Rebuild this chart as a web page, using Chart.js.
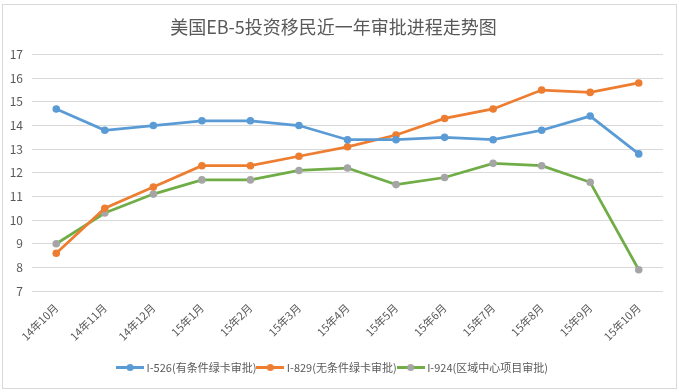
<!DOCTYPE html>
<html>
<head>
<meta charset="utf-8">
<script src="https://cdn.jsdelivr.net/npm/chart.js@4/dist/chart.umd.min.js"></script>
<style>
  html, body { margin: 0; padding: 0; background: #fff; }
  .wrap { width: 679px; height: 392px; position: relative; }
</style>
</head>
<body>
<div class="wrap"><canvas id="myChart"></canvas></div>
<script>
// Months
const months = ["14年10月", "14年11月", "14年12月", "15年1月", "15年2月", "15年3月", "15年4月",
  "15年5月", "15年6月", "15年7月", "15年8月", "15年9月", "15年10月"];

// Processing time (months) per form
const i526 = [14.7, 13.8, 14.0, 14.2, 14.2, 14.0, 13.4, 13.4, 13.5, 13.4, 13.8, 14.4, 12.8];
const i829 = [8.6, 10.5, 11.4, 12.3, 12.3, 12.7, 13.1, 13.6, 14.3, 14.7, 15.5, 15.4, 15.8];
const i924 = [9.0, 10.3, 11.1, 11.7, 11.7, 12.1, 12.2, 11.5, 11.8, 12.4, 12.3, 11.6, 7.9];

const seriesNames = ["I-526(有条件绿卡审批)", "I-829(无条件绿卡审批)", "I-924(区域中心项目审批)"];

const font = '"Noto Sans CJK SC", "Noto Sans", sans-serif';
const textColor = "#595959";

// legend marker: short line with a dot in the middle
const legendIcon = (lineColor, dotColor) => {
  const c = document.createElement("canvas");
  c.width = 28;
  c.height = 9;
  const g = c.getContext("2d");
  g.strokeStyle = lineColor;
  g.lineWidth = 3;
  g.beginPath();
  g.moveTo(0, 4.5);
  g.lineTo(28, 4.5);
  g.stroke();
  g.fillStyle = dotColor;
  g.beginPath();
  g.arc(14, 4.5, 3.5, 0, Math.PI * 2);
  g.fill();
  return c;
};

const makeSeries = (label, data, lineColor, dotColor) => ({
  label: label,
  data: data,
  borderColor: lineColor,
  backgroundColor: dotColor,
  pointBackgroundColor: dotColor,
  pointBorderColor: dotColor,
  borderWidth: 2.75,
  pointRadius: 3.8,
  pointBorderWidth: 0,
  tension: 0,
  icon: legendIcon(lineColor, dotColor)
});

const frame = {
  id: "frame",
  beforeDraw: (chart) => {
    const ctx = chart.ctx;
    ctx.save();
    ctx.fillStyle = "#fff";
    ctx.fillRect(0, 0, chart.width, chart.height);
    ctx.strokeStyle = "#D9D9D9";
    ctx.lineWidth = 1;
    ctx.strokeRect(2.5, 4.5, 674, 384);
    ctx.restore();
  }
};

const ctx = document.getElementById("myChart").getContext("2d");
const myChart = new Chart(ctx, {
  type: "line",
  data: {
    labels: months,
    datasets: [
      makeSeries(seriesNames[0], i526, "#5B9BD5", "#5B9BD5"),
      makeSeries(seriesNames[1], i829, "#ED7D31", "#ED7D31"),
      makeSeries(seriesNames[2], i924, "#70AD47", "#A5A5A5")
    ]
  },
  options: {
    responsive: true,
    maintainAspectRatio: false,
    animation: false,
    layout: { padding: { top: 4, left: 4, right: 16, bottom: 9 } },
    plugins: {
      title: {
        display: true,
        text: "美国EB-5投资移民近一年审批进程走势图",
        color: textColor,
        font: { family: font, size: 18, weight: "normal" },
        padding: { top: 12, bottom: 17 }
      },
      legend: {
        position: "bottom",
        labels: {
          color: textColor,
          font: { family: font, size: 11 },
          usePointStyle: true,
          pointStyleWidth: 22,
          padding: 3,
          generateLabels: (chart) => chart.data.datasets.map((ds, i) => ({
            text: ds.label,
            pointStyle: ds.icon,
            fillStyle: ds.borderColor,
            strokeStyle: ds.borderColor,
            lineWidth: 0,
            fontColor: textColor,
            hidden: false,
            datasetIndex: i
          }))
        }
      },
      tooltip: { enabled: false }
    },
    scales: {
      x: {
        offset: true,
        grid: { display: false, offset: true },
        border: { display: false },
        ticks: {
          color: textColor,
          font: { family: font, size: 11 },
          minRotation: 45,
          maxRotation: 45,
          padding: 2,
          autoSkip: false
        },
        afterFit: (s) => { s.height = 68; }
      },
      y: {
        min: 7,
        max: 17,
        grid: { color: "#D9D9D9", lineWidth: 1, drawTicks: false },
        border: { display: false },
        ticks: {
          stepSize: 1,
          color: textColor,
          font: { family: font, size: 12 },
          padding: 9
        },
        afterFit: (s) => { s.width = 28; }
      }
    }
  },
  plugins: [frame]
});
</script>
</body>
</html>
